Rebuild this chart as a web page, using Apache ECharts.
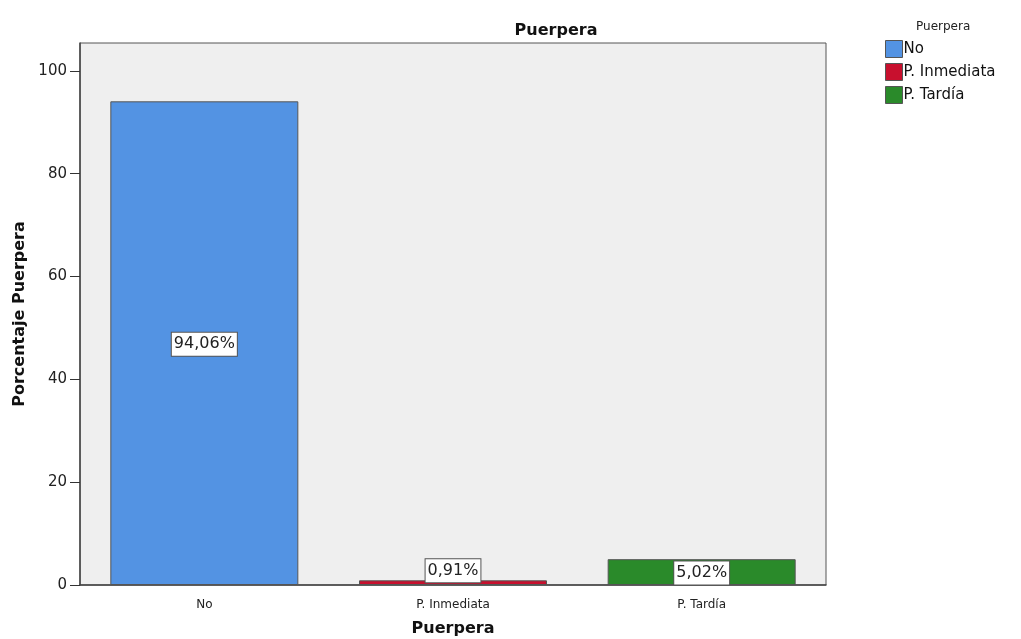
<!DOCTYPE html>
<html>
<head>
<meta charset="utf-8">
<script src="https://cdn.jsdelivr.net/npm/echarts@6/dist/echarts.min.js"></script>
<style>
  html, body { margin: 0; padding: 0; background: #ffffff; }
  #chart { width: 1021px; height: 639px; }
</style>
</head>
<body>
<div id="chart"></div>
<script>
// Categories and percentages
const categories = ['No', 'P. Inmediata', 'P. Tardía'];
const values = [94.06, 0.91, 5.02];
const colors = ['#5393e3', '#c8102e', '#2a8a2a'];
const yTicks = [0, 20, 40, 60, 80, 100];

const fmt = v => v.toFixed(2).replace('.', ',') + '%';

const chart = echarts.init(document.getElementById('chart'));

// One series per category so each gets its own legend entry; stacking keeps bars centred
const series = categories.map((name, i) => ({
  name: name,
  type: 'bar',
  stack: 'all',
  barWidth: '75.6%',
  itemStyle: { color: colors[i], borderColor: '#555555', borderWidth: 1 },
  data: categories.map((c, j) => (j === i ? values[i] : null)),
  label: {
    show: true,
    position: 'inside',
    offset: values[i] < 2 ? [0, -12] : [0, 1],
    formatter: p => fmt(p.value),
    color: '#222222',
    fontFamily: 'DejaVu Sans',
    fontSize: 16,
    backgroundColor: '#ffffff',
    borderColor: '#555555',
    borderWidth: 1,
    padding: [4, 2, 3, 2]
  }
}));

chart.setOption({
  backgroundColor: '#ffffff',
  animation: false,
  title: {
    text: 'Puerpera',
    left: 551,
    top: 18,
    textAlign: 'center',
    textStyle: { fontFamily: 'DejaVu Sans', fontSize: 16, fontWeight: 'bold', color: '#111111' }
  },
  legend: {
    orient: 'vertical',
    left: 880,
    top: 35,
    itemWidth: 17,
    itemHeight: 17,
    itemGap: 5,
    icon: 'rect',
    data: categories,
    itemStyle: { borderColor: '#555555', borderWidth: 1 },
    textStyle: { fontFamily: 'DejaVu Sans', fontSize: 15, color: '#111111', padding: [0, 0, 0, -4] }
  },
  graphic: [{
    type: 'text',
    left: 916,
    top: 21,
    style: { text: 'Puerpera', fontFamily: 'DejaVu Sans', fontSize: 12, fill: '#222222' }
  }],
  grid: {
    left: 80, right: 195, top: 43, bottom: 54,
    show: true,
    backgroundColor: '#efefef',
    borderColor: '#555555',
    borderWidth: 1,
    containLabel: false,
    outerBoundsMode: 'none'
  },
  xAxis: {
    type: 'category',
    data: categories,
    name: 'Puerpera',
    nameLocation: 'middle',
    nameGap: 36,
    nameTextStyle: { fontFamily: 'DejaVu Sans', fontSize: 16, fontWeight: 'bold', color: '#111111' },
    axisLine: { lineStyle: { color: '#444444', width: 1.5 } },
    axisTick: { alignWithLabel: true, length: 7, lineStyle: { color: '#333333' } },
    axisLabel: { fontFamily: 'DejaVu Sans', fontSize: 12, color: '#222222', margin: 14 },
    splitLine: { show: false }
  },
  yAxis: {
    type: 'value',
    min: 0,
    max: 105.4,
    interval: 20,
    name: 'Porcentaje Puerpera',
    nameLocation: 'middle',
    nameGap: 52,
    nameTextStyle: { fontFamily: 'DejaVu Sans', fontSize: 16, fontWeight: 'bold', color: '#111111' },
    axisLine: { show: true, lineStyle: { color: '#444444', width: 1.5 } },
    axisTick: { show: true, length: 10, customValues: yTicks, lineStyle: { color: '#333333' } },
    axisLabel: {
      fontFamily: 'DejaVu Sans', fontSize: 15, color: '#222222', margin: 13,
      customValues: yTicks
    },
    splitLine: { show: false }
  },
  series: series
});
</script>
</body>
</html>
